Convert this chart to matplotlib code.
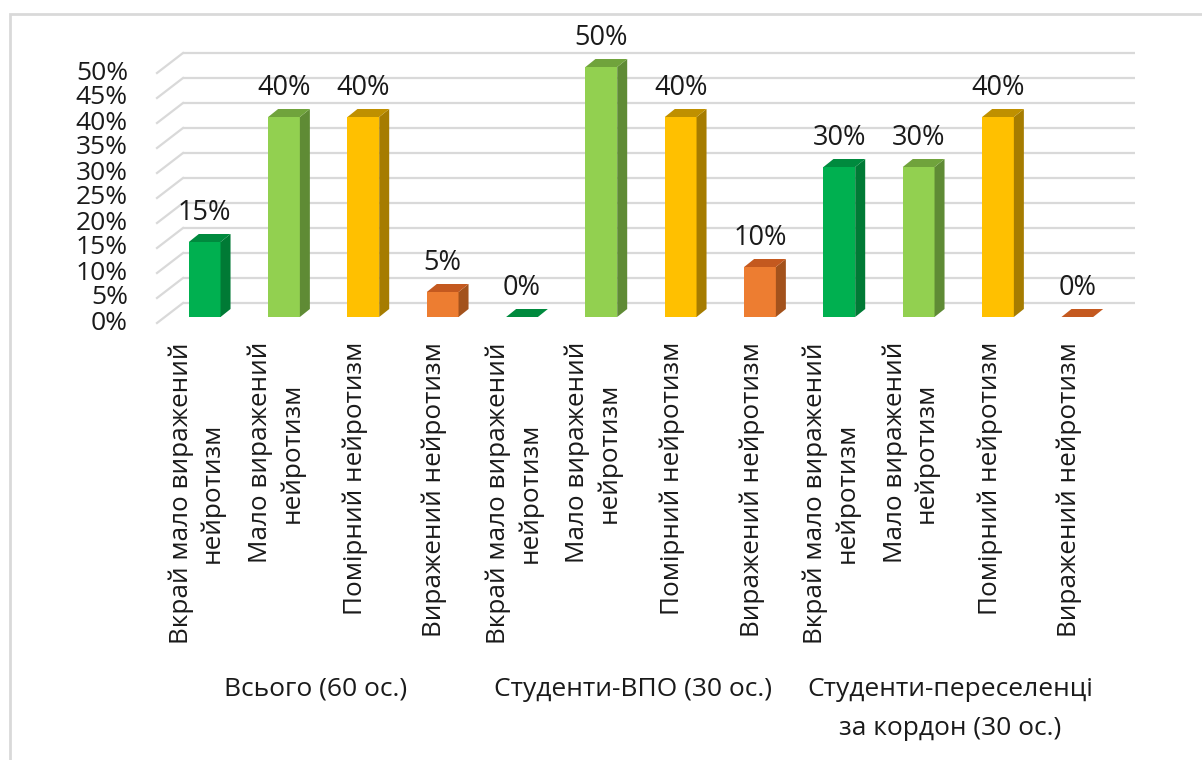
import matplotlib
matplotlib.use("Agg")
import matplotlib.pyplot as plt
from matplotlib.patches import Rectangle, Polygon

plt.rcParams['font.family'] = ['Open Sans', 'DejaVu Sans']

# ---- data ----
categories = [
    "Вкрай мало виражений\nнейротизм", "Мало виражений\nнейротизм",
    "Помірний нейротизм", "Виражений нейротизм",
    "Вкрай мало виражений\nнейротизм", "Мало виражений\nнейротизм",
    "Помірний нейротизм", "Виражений нейротизм",
    "Вкрай мало виражений\nнейротизм", "Мало виражений\nнейротизм",
    "Помірний нейротизм", "Виражений нейротизм",
]
values = [15, 40, 40, 5, 0, 50, 40, 10, 30, 30, 40, 0]
groups = ["Всього (60 ос.)", "Студенти-ВПО (30 ос.)",
          "Студенти-переселенці\nза кордон (30 ос.)"]
group_size = 4
yticks = [0, 5, 10, 15, 20, 25, 30, 35, 40, 45, 50]

front_colors = ["#00B050", "#92D050", "#FFC000", "#ED7D31"]
side_colors = ["#007A35", "#5F8B35", "#A67C00", "#A3521C"]
top_colors = ["#008A3E", "#70A33C", "#BF9000", "#C4591F"]

W, H = 1202, 760
fig = plt.figure(figsize=(W / 100, H / 100), dpi=100)

# front plane of the bars (pixels)
left_px, right_px = 165, 1117
top_px, base_px = 67, 317
ax = fig.add_axes([left_px / W, 1 - base_px / H,
                   (right_px - left_px) / W, (base_px - top_px) / H])
n = len(values)
ax.set_xlim(-0.5, n - 0.5)
ax.set_ylim(0, 50)
ax.axis("off")

ppx = (right_px - left_px) / n          # pixels per category
ppy = (base_px - top_px) / 50.0         # pixels per percent
def dx(px):
    return px / ppx
def dy(px):
    return px / ppy

grid_c = "#D9D9D9"
txt_c = "#1a1a1a"
# back wall offset and front floor offset
bx, by = dx(18), dy(14)
fx, fy = dx(-8), dy(-6)
for t in yticks:
    ax.plot([-0.5 + bx, n - 0.5 + bx], [t + by, t + by], color=grid_c,
            lw=1.6, clip_on=False, zorder=1, solid_capstyle="butt")
    ax.plot([-0.5 + fx, -0.5 + bx], [t + fy, t + by], color=grid_c,
            lw=1.6, clip_on=False, zorder=1)
    ax.text(-0.5 + dx(-37), t + fy, f"{t}%", ha="right", va="center",
            fontsize=19, color=txt_c, clip_on=False)

# bars
hw = 0.2
sdx, sdy = dx(10), dy(8)
for i, v in enumerate(values):
    k = i % group_size
    x0, x1 = i - hw, i + hw
    if v > 0:
        ax.add_patch(Rectangle((x0, 0), x1 - x0, v, facecolor=front_colors[k],
                               edgecolor="none", zorder=3, clip_on=False))
        ax.add_patch(Polygon([(x1, 0), (x1 + sdx, sdy), (x1 + sdx, v + sdy), (x1, v)],
                             closed=True, facecolor=side_colors[k],
                             edgecolor="none", zorder=3, clip_on=False))
    ax.add_patch(Polygon([(x0, v), (x1, v), (x1 + sdx, v + sdy), (x0 + sdx, v + sdy)],
                         closed=True, facecolor=top_colors[k],
                         edgecolor="none", zorder=3, clip_on=False))
    ax.text(i, v + dy(29), f"{v}%", ha="center", va="center", fontsize=19.5,
            color=txt_c, clip_on=False, zorder=4)
    ax.text(i + fx, dy(-25), categories[i], rotation=90, ha="center", va="top",
            multialignment="center", fontsize=18.8, color=txt_c,
            linespacing=1.3, clip_on=False)

for g, name in enumerate(groups):
    c = g * group_size + (group_size - 1) / 2.0
    ax.text(c + fx, dy(-(677 - base_px)), name, ha="center", va="top",
            multialignment="center", fontsize=19, color=txt_c,
            linespacing=1.75, clip_on=False)

# chart border
fig.patches.append(Rectangle((10 / W, -0.05), 1.2, 1 - 14 / H + 0.05,
                             transform=fig.transFigure, facecolor="none",
                             edgecolor="#D9D9D9", lw=2, zorder=0))

fig.savefig("out.png", dpi=100, facecolor="white")
